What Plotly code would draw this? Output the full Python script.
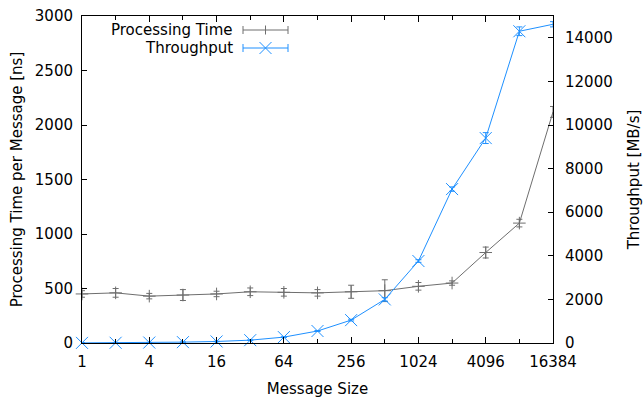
import plotly.graph_objects as go

sizes = [1, 2, 4, 8, 16, 32, 64, 128, 256, 512, 1024, 2048, 4096, 8192, 16384]
proc_time = [450, 460, 430, 440, 450, 470, 465, 460, 470, 480, 520, 550, 830, 1100, 2120]
proc_err = [30, 40, 25, 50, 25, 35, 35, 30, 60, 100, 35, 20, 50, 35, 50]
throughput = [5, 10, 20, 40, 70, 130, 270, 550, 1050, 2000, 3760, 7060, 9400, 14300, 14620]
thr_err = [5, 5, 5, 5, 10, 10, 15, 20, 40, 80, 60, 100, 250, 200, 120]

x_ticks = [1, 4, 16, 64, 256, 1024, 4096, 16384]
x_minor = [2, 8, 32, 128, 512, 2048, 8192]
y2_ticks = [0, 2000, 4000, 6000, 8000, 10000, 12000, 14000]

GRAY = "#6e6e6e"
BLUE = "#1e90ff"
FONT = "DejaVu Sans"
FS = 15

fig = go.Figure()
fig.add_trace(go.Scatter(
    x=sizes, y=proc_time, mode="lines+markers", name="Processing Time",
    line=dict(color=GRAY, width=1), cliponaxis=False,
    marker=dict(symbol="cross-thin-open", size=9, color=GRAY, line=dict(color=GRAY, width=1)),
    error_y=dict(type="data", array=proc_err, color=GRAY, thickness=1, width=3),
    yaxis="y", showlegend=False))
fig.add_trace(go.Scatter(
    x=sizes, y=throughput, mode="lines+markers", name="Throughput",
    line=dict(color=BLUE, width=1), cliponaxis=False,
    marker=dict(symbol="x-thin-open", size=12, color=BLUE, line=dict(color=BLUE, width=1)),
    error_y=dict(type="data", array=thr_err, color=BLUE, thickness=1, width=3),
    yaxis="y2", showlegend=False))

axis_common = dict(showline=True, linecolor="black", linewidth=1, ticks="inside",
                   tickcolor="black", showgrid=False, zeroline=False, automargin=False,
                   tickfont=dict(family=FONT, size=FS, color="black"))

fig.update_layout(
    width=643, height=398,
    margin=dict(l=82, r=90, t=16, b=55),
    paper_bgcolor="white", plot_bgcolor="white",
    font=dict(family=FONT, size=FS, color="black"),
    xaxis=dict(type="log", range=[0, 4.2144], tickvals=x_ticks, ticktext=[str(v) for v in x_ticks],
               mirror="ticks", ticklen=6, ticklabelstandoff=5,
               minor=dict(tickvals=x_minor, ticks="inside", ticklen=4, tickcolor="black"),
               title=dict(text="Message Size", font=dict(family=FONT, size=FS), standoff=14),
               **axis_common),
    yaxis=dict(range=[0, 3000], dtick=500, ticklen=5, ticklabelstandoff=5,
               title=dict(text="Processing Time per Message [ns]", font=dict(family=FONT, size=FS), standoff=8),
               **axis_common),
    yaxis2=dict(range=[0, 15000], tickvals=y2_ticks, ticktext=[str(v) for v in y2_ticks],
                overlaying="y", side="right", ticklen=5, ticklabelstandoff=8,
                title=dict(text="Throughput [MB/s]", font=dict(family=FONT, size=FS), standoff=22),
                **axis_common),
)

# custom gnuplot-style legend (text right-aligned, sample on the right)
def legend_entry(y_px, label, color, marker):
    yp = 1 - (y_px - 16) / 327.0
    x0 = (243 - 82) / 471.0
    x1 = (288 - 82) / 471.0
    xc = (x0 + x1) / 2
    fig.add_annotation(x=(235 - 82) / 471.0, y=yp, xref="paper", yref="paper", text=label,
                       showarrow=False, xanchor="right", yanchor="middle",
                       font=dict(family=FONT, size=FS, color="black"))
    fig.add_shape(type="line", xref="paper", yref="paper", x0=x0, x1=x1, y0=yp, y1=yp,
                  line=dict(color=color, width=1))
    cap = 4 / 327.0
    for xx in (x0, x1):
        fig.add_shape(type="line", xref="paper", yref="paper", x0=xx, x1=xx, y0=yp - cap, y1=yp + cap,
                      line=dict(color=color, width=1))
    if marker == "plus":
        d = 4.5
        fig.add_shape(type="line", xref="paper", yref="paper", x0=xc, x1=xc,
                      y0=yp - d / 327.0, y1=yp + d / 327.0, line=dict(color=color, width=1))
    else:
        d = 6
        fig.add_shape(type="line", xref="paper", yref="paper", x0=xc - d / 471.0, x1=xc + d / 471.0,
                      y0=yp - d / 327.0, y1=yp + d / 327.0, line=dict(color=color, width=1))
        fig.add_shape(type="line", xref="paper", yref="paper", x0=xc - d / 471.0, x1=xc + d / 471.0,
                      y0=yp + d / 327.0, y1=yp - d / 327.0, line=dict(color=color, width=1))

legend_entry(30, "Processing Time", GRAY, "plus")
legend_entry(48, "Throughput", BLUE, "x")

fig.write_html("out.html")
